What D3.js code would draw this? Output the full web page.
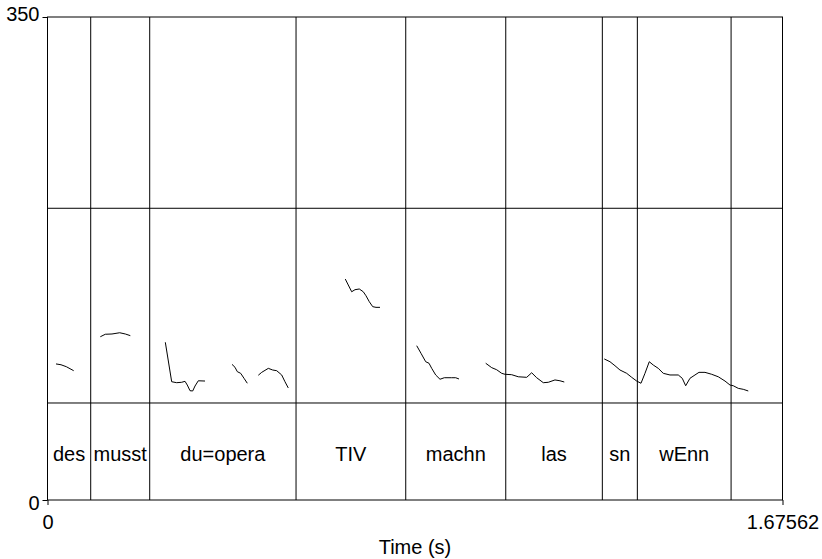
<!DOCTYPE html>
<html>
<head>
<meta charset="utf-8">
<script src="https://cdn.jsdelivr.net/npm/d3@7"></script>
<style>
  body { margin: 0; background: #fff; }
  text { font-family: "Liberation Sans", Arial, sans-serif; }
</style>
</head>
<body>
<svg id="chart" width="822" height="559"></svg>
<script>
// total duration and pitch range
var tMax = 1.67562;
var fMax = 350;

// tier separators (Hz level of the horizontal lines)
var tierLines = [70.3, 211.4];

// interval boundaries (s) and word labels
var boundaries = [0.0985, 0.2330, 0.5666, 0.8167, 1.0447, 1.2649, 1.3447, 1.5584];
var words = ["des", "musst", "du=opera", "TIV", "machn", "las", "sn", "wEnn", ""];

// pitch contour pieces: [time (s), f0 (Hz)]
var pitchDes = [[0.0194, 98.6], [0.0308, 98.0], [0.0429, 96.6], [0.0597, 93.7]];
var pitchMusst = [[0.1204, 118.3], [0.1318, 120.1], [0.1470, 120.3], [0.1646, 121.2], [0.1774, 120.3], [0.1888, 119.1]];
var pitchDu1 = [[0.2686, 114.3], [0.2831, 85.7], [0.2945, 85.0], [0.3059, 85.3], [0.3135, 86.0], [0.3187, 83.3],
                [0.3249, 79.2], [0.3310, 79.0], [0.3363, 82.6], [0.3438, 86.4], [0.3591, 86.2]];
var pitchDu2 = [[0.4206, 98.3], [0.4274, 96.2], [0.4327, 93.0], [0.4404, 91.8], [0.4480, 88.2], [0.4555, 84.6]];
var pitchDu3 = [[0.4806, 90.4], [0.4883, 92.5], [0.5034, 95.4], [0.5134, 94.2], [0.5225, 93.7], [0.5339, 90.6],
                [0.5414, 85.7], [0.5489, 81.2]];
var pitchTiv = [[0.6789, 160.1], [0.6857, 155.8], [0.6935, 150.9], [0.7010, 152.4], [0.7108, 152.9], [0.7199, 150.9],
                [0.7261, 148.0], [0.7336, 143.7], [0.7414, 140.1], [0.7489, 139.6], [0.7580, 139.6]];
var pitchMachn = [[0.8417, 111.8], [0.8515, 106.3], [0.8622, 100.2], [0.8697, 99.1], [0.8759, 95.4], [0.8850, 90.6],
                  [0.8948, 87.5], [0.9046, 88.6], [0.9215, 88.6], [0.9306, 88.6], [0.9381, 87.7]];
var pitchLas = [[0.9990, 99.1], [1.0127, 95.9], [1.0240, 94.4], [1.0355, 91.8], [1.0430, 91.1], [1.0582, 90.8],
                [1.0733, 89.3], [1.0925, 88.9], [1.1038, 92.2], [1.1152, 88.6], [1.1303, 85.0], [1.1417, 85.3],
                [1.1569, 87.0], [1.1683, 86.4], [1.1781, 85.5]];
var pitchWenn = [[1.2693, 102.2], [1.2823, 100.2], [1.2937, 97.3], [1.3051, 94.2], [1.3204, 91.8], [1.3318, 88.9],
                 [1.3432, 86.2], [1.3530, 84.6], [1.3621, 91.8], [1.3719, 100.2], [1.3810, 97.8], [1.3924, 95.4],
                 [1.4038, 91.8], [1.4191, 90.6], [1.4380, 90.6], [1.4471, 88.2], [1.4549, 82.8], [1.4647, 88.2],
                 [1.4761, 90.6], [1.4852, 92.5], [1.4989, 92.5], [1.5142, 91.1], [1.5292, 89.3], [1.5445, 86.2],
                 [1.5559, 83.3], [1.5634, 82.8], [1.5748, 80.9], [1.5862, 80.2], [1.5976, 79.0]];

var contours = [pitchDes, pitchMusst, pitchDu1, pitchDu2, pitchDu3, pitchTiv, pitchMachn, pitchLas, pitchWenn];

var margin = {top: 17, right: 39.5, bottom: 59, left: 47.5};
var fontSize = "20px";
var svg = d3.select("#chart");
var width = 822 - margin.left - margin.right,
    height = 559 - margin.top - margin.bottom;

var g = svg.append("g").attr("transform", "translate(" + margin.left + "," + margin.top + ")");

var x = d3.scaleLinear().domain([0, tMax]).range([0, width]);
var y = d3.scaleLinear().domain([0, fMax]).range([height, 0]);

// frame
g.append("rect")
  .attr("width", width).attr("height", height)
  .attr("fill", "none").attr("stroke", "#000").attr("stroke-width", 1);

// tier lines
g.selectAll("line.tier")
  .data(tierLines)
  .enter().append("line")
  .attr("class", "tier")
  .attr("x1", 0).attr("x2", width)
  .attr("y1", d => y(d)).attr("y2", d => y(d))
  .attr("stroke", "#000");

// interval boundaries
g.selectAll("line.bound")
  .data(boundaries)
  .enter().append("line")
  .attr("class", "bound")
  .attr("x1", d => x(d)).attr("x2", d => x(d))
  .attr("y1", 0).attr("y2", height)
  .attr("stroke", "#000");

// word labels, centred in each interval of the lower tier
var edges = [0].concat(boundaries).concat([tMax]);
var labelY = (y(tierLines[0]) + height) / 2 + 10;
g.selectAll("text.word")
  .data(words)
  .enter().append("text")
  .attr("class", "word")
  .attr("x", (d, i) => (x(edges[i]) + x(edges[i + 1])) / 2)
  .attr("y", labelY)
  .attr("text-anchor", "middle")
  .style("font-size", fontSize)
  .text(d => d);

// pitch contours
var line = d3.line().x(d => x(d[0])).y(d => y(d[1]));
g.selectAll("path.pitch")
  .data(contours)
  .enter().append("path")
  .attr("class", "pitch")
  .attr("d", line)
  .attr("fill", "none")
  .attr("stroke", "#000")
  .attr("stroke-width", 1);

// axes
var yAxis = d3.axisLeft(y).tickValues([0, fMax]).tickSize(5).tickPadding(3).tickFormat(d3.format("d"));
var gy = g.append("g").call(yAxis);
gy.select(".domain").remove();
gy.selectAll("text").style("font-size", fontSize).attr("fill", "#000");
gy.selectAll(".tick").filter(d => d === fMax).select("text").attr("dy", "0.18em");
gy.selectAll(".tick").filter(d => d === 0).select("text").attr("dy", "0.45em");

var xAxis = d3.axisBottom(x).tickValues([0, tMax]).tickSize(5).tickPadding(10)
  .tickFormat(d => d === 0 ? "0" : String(tMax));
var gx = g.append("g").attr("transform", "translate(0," + height + ")").call(xAxis);
gx.select(".domain").remove();
gx.selectAll("text").style("font-size", fontSize).attr("fill", "#000");

g.append("text")
  .attr("x", width / 2)
  .attr("y", height + 54)
  .attr("text-anchor", "middle")
  .style("font-size", fontSize)
  .text("Time (s)");
</script>
</body>
</html>
